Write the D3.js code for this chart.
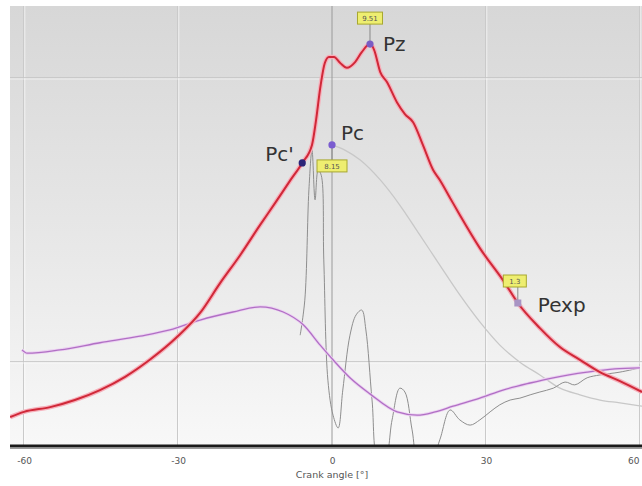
<!DOCTYPE html>
<html><head><meta charset="utf-8">
<script src="https://cdn.jsdelivr.net/npm/d3@7"></script>
<style>html,body{margin:0;padding:0;background:#fff;}svg{display:block;}</style>
</head><body>
<script>
// ---- data ----
const xTicks = [-60, -30, 0, 30, 60];
const xTickLabels = ["-60", "-30", "0", "30", "60"];
const yGrid = [20, 80];
const xTitle = "Crank angle [°]";

const cylAngle = [-62.7,-60,-54.9,-50.1,-45.2,-40.3,-35.5,-30.2,-25.7,-21.8,-17.9,-14.0,-11.1,-8.2,-5.8,-3.9,-3.1,-2.3,-1.4,-0.6,0.4,1.6,2.9,4.5,5.8,7.4,8.2,9.4,10.7,12.7,14.2,15.8,17.7,19.7,21.0,23.0,24.9,28.8,33.7,36.2,40.5,44.4,48.3,52.2,56.1,60.4];
const cylPressure = [8.4,9.5,10.5,12.0,14.1,16.9,20.5,25.3,30.4,36.7,42.6,49.0,53.6,58.3,62.1,65.9,71.2,77.9,83.2,84.5,84.5,83.2,82.2,83.4,85.5,87.2,86.0,81.3,79.2,74.8,72.4,70.7,65.9,60.6,58.5,54.7,51.1,44.1,36.7,32.5,27.2,23.2,20.5,17.9,16.0,13.7];

const tempAngle = [-60.4,-59.4,-53,-45.2,-37.4,-31.6,-25.7,-19.3,-14.0,-9.5,-5.6,-2.3,0.2,3.5,7.4,12.7,16.6,20.1,23.6,28.8,33.3,38.6,43.1,49.7,55.1,60.0];
const tempValue = [22.6,21.9,22.6,24.1,25.5,26.8,28.9,30.6,31.7,30.6,27.9,23.6,20.5,16.7,13.3,9.5,8.8,9.5,10.7,12.4,14.1,15.6,16.7,17.9,18.6,18.8];

const hrrAngle = [-6.2,-5.3,-4.5,-3.9,-3.3,-2.7,-2.1,-1.6,-0.8,0.2,1.2,2.1,3.5,4.7,5.8,6.6,7.8,9.0,10.3,11.7,13.2,14.2,15.6,16.8,19.1,21.0,23.0,24.9,26.9,28.8,30.8,32.7,34.7,36.6,38.6,40.5,43.1,45.4,47.3,49.7,52.2,56.1,60.0];
const hrrValue = [25.7,33.1,56.4,64.8,54.3,60.6,59.5,41.6,16.2,8.8,6.1,14.1,25.7,30.0,31.0,26.8,12.0,-0.7,-0.7,7.8,14.5,13.7,5.7,-0.7,-1.5,3.6,9.9,7.8,6.7,7.8,9.5,11.0,12.0,12.4,13.1,13.7,14.5,15.8,15.2,16.7,17.3,17.9,18.8];

const motAngle = [0,2.5,5.5,9.4,13.2,17.1,21.0,24.9,28.8,32.7,36.6,40.5,44.4,48.3,52.2,56.1,60.4];
const motValue = [65.9,64.8,62.7,58.5,53.2,46.9,40.5,34.2,28.5,23.6,20.0,17.3,14.5,13.1,12.0,11.4,10.7];

const pointNames = ["Pz", "Pc", "Pc'", "Pexp"];
const pointAngle = [7.4, 0, -5.8, 36.2];
const pointValue = [87.2, 65.9, 62.1, 32.5];
const boxText = ["9.51", "8.15", "1.3"];

// ---- layout ----
const W = 642, H = 486;
const pL = 10, pR = 642, pT = 6, pB = 445;
const x = d3.scaleLinear().domain([-62.73, 60.39]).range([pL, pR]);
const y = d3.scaleLinear().domain([2.5, 95.25]).range([pB, pT]);

const svg = d3.select("body").append("svg").attr("width", W).attr("height", H)
  .style("font-family", "'DejaVu Sans', sans-serif");

const defs = svg.append("defs");
const grad = defs.append("linearGradient").attr("id", "bg").attr("x1", 0).attr("y1", 0).attr("x2", 0).attr("y2", 1);
grad.append("stop").attr("offset", "0%").attr("stop-color", "#d7d7d7");
grad.append("stop").attr("offset", "55%").attr("stop-color", "#e8e8e8");
grad.append("stop").attr("offset", "100%").attr("stop-color", "#f8f8f8");
defs.append("clipPath").attr("id", "clip").append("rect")
  .attr("x", pL).attr("y", pT).attr("width", pR - pL).attr("height", pB - pT);

svg.append("rect").attr("x", pL).attr("y", pT).attr("width", pR - pL).attr("height", pB - pT)
  .attr("fill", "url(#bg)");

const g = svg.append("g").attr("clip-path", "url(#clip)");

// grid
xTicks.filter(t => t !== 0).forEach(t => {
  g.append("line").attr("x1", x(t) - 0.5).attr("x2", x(t) - 0.5).attr("y1", pT).attr("y2", pB)
    .attr("stroke", "#cacaca").attr("stroke-width", 1);
  g.append("line").attr("x1", x(t) + 0.8).attr("x2", x(t) + 0.8).attr("y1", pT).attr("y2", pB)
    .attr("stroke", "#ffffff").attr("stroke-opacity", 0.6).attr("stroke-width", 1);
});
yGrid.forEach(v => {
  g.append("line").attr("x1", pL).attr("x2", pR).attr("y1", y(v) - 0.5).attr("y2", y(v) - 0.5)
    .attr("stroke", "#c6c6c6").attr("stroke-width", 1);
  g.append("line").attr("x1", pL).attr("x2", pR).attr("y1", y(v) + 0.8).attr("y2", y(v) + 0.8)
    .attr("stroke", "#ffffff").attr("stroke-opacity", 0.6).attr("stroke-width", 1);
});
// zero line
g.append("line").attr("x1", x(0)).attr("x2", x(0)).attr("y1", pT).attr("y2", pB)
  .attr("stroke", "#9a9a9a").attr("stroke-width", 1);

const line = d3.line().curve(d3.curveMonotoneX);
const mk = (a, v) => a.map((d, i) => [x(d), y(v[i])]);

// motored (light gray)
g.append("path").attr("d", line(mk(motAngle, motValue))).attr("fill", "none")
  .attr("stroke", "#c8c8c8").attr("stroke-width", 1.3);
// heat release (gray)
g.append("path").attr("d", d3.line().curve(d3.curveCatmullRom)(mk(hrrAngle, hrrValue))).attr("fill", "none")
  .attr("stroke", "#8e8e8e").attr("stroke-width", 1);
// temperature (purple)
g.append("path").attr("d", line(mk(tempAngle, tempValue))).attr("fill", "none")
  .attr("stroke", "#ecd0f2").attr("stroke-width", 3);
g.append("path").attr("d", line(mk(tempAngle, tempValue))).attr("fill", "none")
  .attr("stroke", "#b070c4").attr("stroke-width", 1.3);
// cylinder pressure (red)
const cylPath = d3.line().curve(d3.curveMonotoneX)(mk(cylAngle, cylPressure));
g.append("path").attr("d", cylPath).attr("fill", "none")
  .attr("stroke", "#f6b0bb").attr("stroke-width", 4.5);
g.append("path").attr("d", cylPath).attr("fill", "none")
  .attr("stroke", "#d02838").attr("stroke-width", 2);

// marker leader lines & boxes
const boxes = [
  {i: 0, cx: x(pointAngle[0]), cy: y(pointValue[0]) - 26, w: 25},
  {i: 1, cx: x(pointAngle[1]), cy: y(pointValue[1]) + 21, w: 30},
  {i: 3, cx: x(pointAngle[3]) - 3, cy: y(pointValue[3]) - 22, w: 23}
];
boxes.forEach((b, k) => {
  svg.append("line").attr("x1", x(pointAngle[b.i])).attr("x2", x(pointAngle[b.i]))
    .attr("y1", y(pointValue[b.i])).attr("y2", b.cy).attr("stroke", "#888").attr("stroke-width", 1);
});
boxes.forEach((b, k) => {
  svg.append("rect").attr("x", b.cx - b.w / 2).attr("y", b.cy - 6).attr("width", b.w).attr("height", 12)
    .attr("fill", "#eeee70").attr("stroke", "#a8a830").attr("stroke-width", 1);
  svg.append("text").attr("x", b.cx).attr("y", b.cy + 3).attr("text-anchor", "middle")
    .attr("font-size", 7).attr("fill", "#555").text(boxText[k]);
});

// points
const ptColors = ["#7a5cc4", "#7a5cd0", "#2c2478", "#a894c4"];
pointNames.forEach((n, i) => {
  if (n === "Pexp") {
    svg.append("rect").attr("x", x(pointAngle[i]) - 3.5).attr("y", y(pointValue[i]) - 3.5)
      .attr("width", 7).attr("height", 7).attr("fill", ptColors[i]);
  } else {
    svg.append("circle").attr("cx", x(pointAngle[i])).attr("cy", y(pointValue[i])).attr("r", 3.6)
      .attr("fill", ptColors[i]);
  }
});
const labelPos = [[13, 7], [9, -5], [-37, -2], [20, 9]];
pointNames.forEach((n, i) => {
  svg.append("text").attr("x", x(pointAngle[i]) + labelPos[i][0]).attr("y", y(pointValue[i]) + labelPos[i][1])
    .attr("font-size", 20).attr("fill", "#333").text(n);
});

// axis
svg.append("line").attr("x1", pL).attr("x2", pR).attr("y1", pB + 1).attr("y2", pB + 1)
  .attr("stroke", "#1a1a1a").attr("stroke-width", 3);
svg.append("line").attr("x1", pL).attr("x2", pR).attr("y1", pB + 3.5).attr("y2", pB + 3.5)
  .attr("stroke", "#9a9a9a").attr("stroke-width", 1);
const axis = d3.axisBottom(x).tickValues(xTicks).tickFormat((d, i) => xTickLabels[i]).tickSize(0).tickPadding(12);
const ag = svg.append("g").attr("transform", `translate(0,${pB + 1})`).call(axis);
ag.select(".domain").remove();
ag.selectAll("text").attr("font-size", 9).attr("fill", "#555").attr("font-family", "'DejaVu Sans', sans-serif");
ag.selectAll("text").filter(d => d === 60).attr("text-anchor", "end").attr("dx", -1);
svg.append("text").attr("x", x(0)).attr("y", 478).attr("text-anchor", "middle")
  .attr("font-size", 9.5).attr("fill", "#555").text(xTitle);
</script>
</body></html>
